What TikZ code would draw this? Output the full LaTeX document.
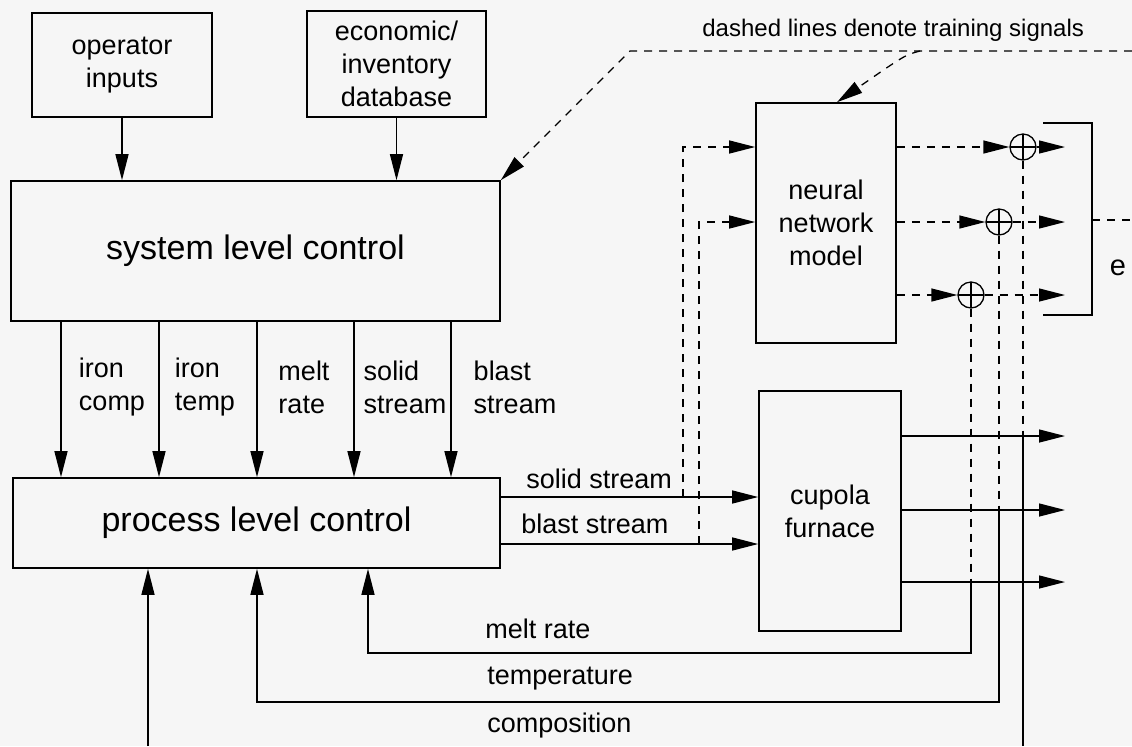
\documentclass[tikz,border=0pt]{standalone}
\usepackage{fontspec}
\setmainfont{Liberation Sans}
\usetikzlibrary{arrows.meta,calc,positioning}
\definecolor{paper}{RGB}{246,246,246}

\begin{document}
\begin{tikzpicture}[x=0.5pt, y=-0.5pt,
    box/.style={rectangle, draw, line width=0.8pt, inner sep=0pt, align=center,
                font=\fontsize{13.5}{16.5}\selectfont},
    bigbox/.style={box, font=\fontsize{17}{20}\selectfont},
    lbl/.style={inner sep=0pt, align=left, font=\fontsize{13.5}{16.5}\selectfont},
    arr/.style={-{Triangle[length=13pt,width=6.5pt]}, line width=0.65pt},
    ln/.style={line width=0.65pt},
    dsh/.style={line width=0.65pt, dash pattern=on 4pt off 3.5pt},
    darr/.style={arr, dash pattern=on 4pt off 3.5pt},
    sumnode/.style={circle, draw, line width=0.65pt, minimum size=13pt, inner sep=0pt,
        path picture={\draw[line width=0.55pt] (path picture bounding box.north) -- (path picture bounding box.south)
            (path picture bounding box.west) -- (path picture bounding box.east);}}
]
    \fill[paper] (0,0) rectangle (1132,746);
    \useasboundingbox (0,0) rectangle (1132,746);

    \node[box, minimum width=90pt, minimum height=52pt] (op) at (122,65) {operator\\inputs};
    \node[box, minimum width=89.5pt, minimum height=53pt] (db) at (396.5,64) {economic/\\inventory\\database};
    \node[bigbox, minimum width=244.5pt, minimum height=70pt] (sys) at (255.5,251) {system level control};
    \node[bigbox, minimum width=243.5pt, minimum height=45pt] (plc) at (256.5,523) {process level control};
    \node[box, minimum width=70pt, minimum height=120pt] (nnm) at (826,223) {neural\\network\\model};
    \node[box, minimum width=71pt, minimum height=120pt] (cup) at (830,511) {cupola\\furnace};

    \node[sumnode] (s1) at (1023,147) {};
    \node[sumnode] (s2) at (999,222) {};
    \node[sumnode] (s3) at (971,295) {};

    \node[lbl, anchor=base west, font=\fontsize{12}{14}\selectfont] (note) at (702,36) {dashed lines denote training signals};
    \node[lbl] (icomp) at (112,387) {iron\\comp};
    \node[lbl] (itemp) at (205,387) {iron\\temp};
    \node[lbl] (mrate) at (304,387) {melt\\rate};
    \node[lbl] (sstream) at (405,387) {solid\\stream};
    \node[lbl] (bstream) at (515,387) {blast\\stream};
    \node[lbl, anchor=base west] (lsolid) at (526,488) {solid stream};
    \node[lbl, anchor=base west] (lblast) at (521,533) {blast stream};
    \node[lbl, anchor=base west] (lmelt) at (485,638) {melt rate};
    \node[lbl, anchor=base west] (ltemp) at (487,684) {temperature};
    \node[lbl, anchor=base west] (lcomp) at (487,732) {composition};
    \node[lbl, font=\fontsize{14.5}{16}\selectfont] (err) at (1118,268) {e};

    \coordinate (c1) at (61,0);
    \coordinate (c2) at (159,0);
    \coordinate (c3) at (257,0);
    \coordinate (c4) at (354,0);
    \coordinate (c5) at (451,0);
    \coordinate (ex) at (1065,0);
    \coordinate (rgt) at (1132,0);
    \coordinate (ss) at (0,497);
    \coordinate (bs) at (0,544);
    \coordinate (o1) at (0,436);
    \coordinate (o2) at (0,510);
    \coordinate (o3) at (0,582);
    \coordinate (tap1) at (683,497);
    \coordinate (tap2) at (699,544);
    \coordinate (mc) at (368,653);
    \coordinate (tc) at (257,702);
    \coordinate (cc) at (148,746);
    \coordinate (bot) at (0,746);
    \coordinate (bk) at (1092,220);
    \coordinate (tr0) at (1132,51);
    \coordinate (tr1) at (630,51);
    \coordinate (tr2) at (920,51);

    \draw[arr] (op.south) -- (op.south |- sys.north);
    \draw[arr] (db.south) -- (db.south |- sys.north);

    \draw[arr] (sys.south -| c1) -- (plc.north -| c1);
    \draw[arr] (sys.south -| c2) -- (plc.north -| c2);
    \draw[arr] (sys.south -| c3) -- (plc.north -| c3);
    \draw[arr] (sys.south -| c4) -- (plc.north -| c4);
    \draw[arr] (sys.south -| c5) -- (plc.north -| c5);

    \draw[arr] (plc.east |- ss) -- (cup.west |- ss);
    \draw[arr] (plc.east |- bs) -- (cup.west |- bs);
    \draw[darr] (tap1) |- (nnm.west |- s1);
    \draw[darr] (tap2) |- (nnm.west |- s2);

    \draw[darr] (nnm.east |- s1) -- (s1.west);
    \draw[darr] (nnm.east |- s2) -- (s2.west);
    \draw[darr] (nnm.east |- s3) -- (s3.west);
    \draw[darr] (s1.east) -- (s1.east -| ex);
    \draw[darr] (s2.east) -- (s2.east -| ex);
    \draw[darr] (s3.east) -- (s3.east -| ex);

    \draw[ln] (1043,123) -| (bk) |- (1043,315);
    \draw[dsh] (bk) -- (bk -| rgt);

    \draw[arr] (cup.east |- o1) -- (ex |- o1);
    \draw[arr] (cup.east |- o2) -- (ex |- o2);
    \draw[arr] (cup.east |- o3) -- (ex |- o3);

    \draw[dsh] (s1.south) -- (s1 |- o1);
    \draw[ln] (s1 |- o1) -- (s1 |- bot);
    \draw[dsh] (s2.south) -- (s2 |- o2);
    \draw[arr] (s2 |- o2) |- (tc) -- (plc.south -| tc);
    \draw[dsh] (s3.south) -- (s3 |- o3);
    \draw[arr] (s3 |- o3) |- (mc) -- (plc.south -| mc);
    \draw[arr] (cc) -- (plc.south -| cc);

    \draw[darr] (tr0) -- (tr1) -- (sys.north east);
    \draw[darr] (tr2) .. controls (905,55) .. ($(nnm.north)+(11,0)$);
\end{tikzpicture}
\end{document}
